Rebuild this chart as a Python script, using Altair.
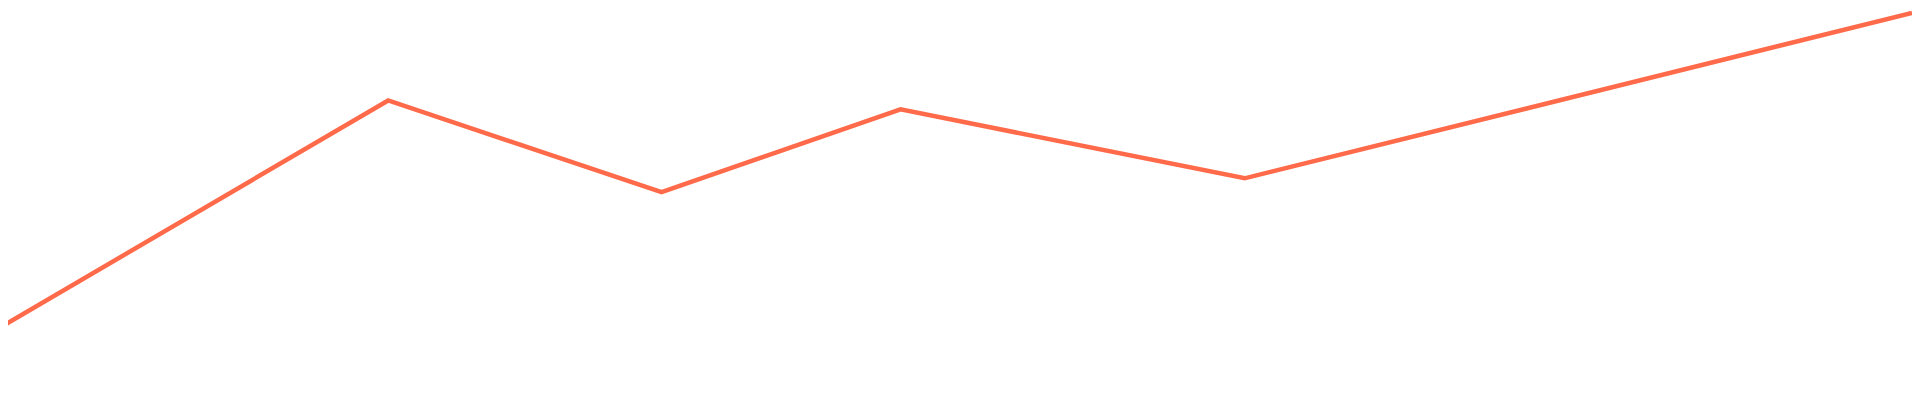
import altair as alt
import pandas as pd

# Series (x as % of the strip's width, y as % of its height from the bottom)
x_pos = [0.0, 20.3, 34.6, 47.1, 65.1, 100.0]
y_val = [19.0, 75.3, 52.6, 73.1, 56.0, 97.0]

df = pd.DataFrame({"x": x_pos, "y": y_val})

chart = (
    alt.Chart(df)
    .mark_line(color="#FF6B4A", strokeWidth=4.5, clip=True)
    .encode(
        x=alt.X("x:Q", axis=None, scale=alt.Scale(domain=[0.4167, 100], nice=False, zero=False)),
        y=alt.Y("y:Q", axis=None, scale=alt.Scale(domain=[0, 98.0247], nice=False, zero=False)),
        order="x:Q",
    )
    .properties(width=1912, height=397, padding=0)
    .configure_view(stroke=None)
)

chart.save("out.html", embed_options={"renderer": "svg", "actions": False})
